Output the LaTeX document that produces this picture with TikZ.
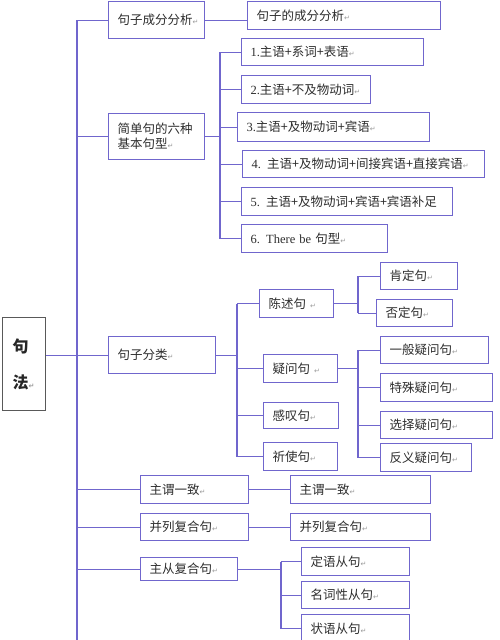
\documentclass[tikz,border=0pt]{standalone}
\usepackage{fontspec}
\setmainfont{Noto Sans CJK SC}
\newfontfamily\lat{Liberation Serif}
\newfontfamily\symb{DejaVu Sans}
\definecolor{linecol}{RGB}{112,102,205}
\definecolor{txtcol}{RGB}{45,45,45}
\newcommand{\retmark}{{\symb\fontsize{7}{7}\selectfont\color{gray!80}↵}}
\tikzset{
  box/.style={draw=linecol, line width=1.1pt, anchor=north west, inner xsep=9pt, inner ysep=0pt,
    align=left, text=txtcol, font=\fontsize{12.5}{15}\selectfont},
  rootbox/.style={draw=black!65, line width=1.2pt, anchor=north west, inner xsep=10pt, inner ysep=0pt,
    align=left, text=black!85, font=\bfseries\fontsize{16}{19}\selectfont},
  link/.style={draw=linecol, line width=1.1pt}
}

\begin{document}
\begin{tikzpicture}[x=1pt, y=-1pt]
    \useasboundingbox (0,0) rectangle (500,640);
    % root
    \node[rootbox, text width=23pt, minimum height=93pt] (root) at (2,317) {句\\[17pt]法\retmark};
    % first level
    \node[box, text width=78pt, minimum height=37pt] (analysis) at (108,1) {句子成分分析\retmark};
    \node[box, text width=78pt, minimum height=46pt] (simple) at (108,113) {简单句的六种\\基本句型\retmark};
    \node[box, text width=89pt, minimum height=37pt] (cls) at (108,336) {句子分类\retmark};
    \node[box, text width=90pt, minimum height=28pt] (agree) at (140,475) {主谓一致\retmark};
    \node[box, text width=90pt, minimum height=27pt] (coord) at (140,513) {并列复合句\retmark};
    \node[box, text width=79pt, minimum height=23pt] (complex) at (140,557) {主从复合句\retmark};
    % second level
    \node[box, text width=175pt, minimum height=28pt] (analysis2) at (247,1) {句子的成分分析\retmark};
    \node[box, text width=164pt, minimum height=27pt] (p1) at (241,38) {{\lat 1.}主语+系词+表语\retmark};
    \node[box, text width=111pt, minimum height=28pt] (p2) at (241,75) {{\lat 2.}主语+不及物动词\retmark};
    \node[box, text width=174pt, minimum height=29pt] (p3) at (237,112) {{\lat 3.}主语+及物动词+宾语\retmark};
    \node[box, text width=224pt, minimum height=27pt] (p4) at (242,150) {{\lat 4.} 主语+及物动词+间接宾语+直接宾语\retmark};
    \node[box, text width=193pt, minimum height=28pt] (p5) at (241,187) {{\lat 5.} 主语+及物动词+宾语+宾语补足};
    \node[box, text width=128pt, minimum height=28pt] (p6) at (241,224) {{\lat 6. There be} 句型\retmark};
    \node[box, text width=56pt, minimum height=28pt] (state) at (259,289) {陈述句 \retmark};
    \node[box, text width=56pt, minimum height=28pt] (ques) at (263,354) {疑问句 \retmark};
    \node[box, text width=57pt, minimum height=26pt] (excl) at (263,402) {感叹句\retmark};
    \node[box, text width=56pt, minimum height=28pt] (imper) at (263,442) {祈使句\retmark};
    \node[box, text width=122pt, minimum height=28pt] (agree2) at (290,475) {主谓一致\retmark};
    \node[box, text width=122pt, minimum height=27pt] (coord2) at (290,513) {并列复合句\retmark};
    % third level
    \node[box, text width=59pt, minimum height=27pt] (yes) at (380,262) {肯定句\retmark};
    \node[box, text width=58pt, minimum height=27pt] (no) at (376,299) {否定句\retmark};
    \node[box, text width=90pt, minimum height=27pt] (general) at (380,336) {一般疑问句\retmark};
    \node[box, text width=94pt, minimum height=28pt] (special) at (380,373) {特殊疑问句\retmark};
    \node[box, text width=94pt, minimum height=27pt] (choice) at (380,411) {选择疑问句\retmark};
    \node[box, text width=73pt, minimum height=28pt] (tag) at (380,443) {反义疑问句\retmark};
    \node[box, text width=90pt, minimum height=28pt] (attr) at (301,547) {定语从句\retmark};
    \node[box, text width=90pt, minimum height=27pt] (noun) at (301,581) {名词性从句\retmark};
    \node[box, text width=90pt, minimum height=28pt] (adv) at (301,614) {状语从句\retmark};

    % buses
    \coordinate (trunk) at (77,640);
    \coordinate (sbus) at (220,0);
    \coordinate (cbus) at (237,0);
    \coordinate (kbus) at (358,0);
    \coordinate (xbus) at (281,0);

    \draw[link] (analysis.west -| trunk) -- (trunk);
    \draw[link] (root.east |- cls.west) -- (cls.west);
    \foreach \n in {analysis,simple,agree,coord,complex}
        \draw[link] (\n.west -| trunk) -- (\n.west);

    \draw[link] (analysis.east) -- (analysis.east -| analysis2.west);
    \draw[link] (agree) -- (agree2);
    \draw[link] (coord) -- (coord2);

    \draw[link] (simple.east) -- (simple.east -| sbus);
    \draw[link] (p1.west -| sbus) -- (p6.west -| sbus);
    \foreach \n in {p1,p2,p3,p4,p5,p6}
        \draw[link] (\n.west -| sbus) -- (\n.west);

    \draw[link] (cls.east) -- (cls.east -| cbus);
    \draw[link] (state.west -| cbus) -- (imper.west -| cbus);
    \foreach \n in {state,ques,excl,imper}
        \draw[link] (\n.west -| cbus) -- (\n.west);

    \draw[link] (state.east) -- (state.east -| kbus);
    \draw[link] (yes.west -| kbus) -- (no.west -| kbus);
    \foreach \n in {yes,no}
        \draw[link] (\n.west -| kbus) -- (\n.west);

    \draw[link] (ques.east) -- (ques.east -| kbus);
    \draw[link] (general.west -| kbus) -- (tag.west -| kbus);
    \foreach \n in {general,special,choice,tag}
        \draw[link] (\n.west -| kbus) -- (\n.west);

    \draw[link] (complex.east) -- (complex.east -| xbus);
    \draw[link] (attr.west -| xbus) -- (adv.west -| xbus);
    \foreach \n in {attr,noun,adv}
        \draw[link] (\n.west -| xbus) -- (\n.west);
\end{tikzpicture}
\end{document}
